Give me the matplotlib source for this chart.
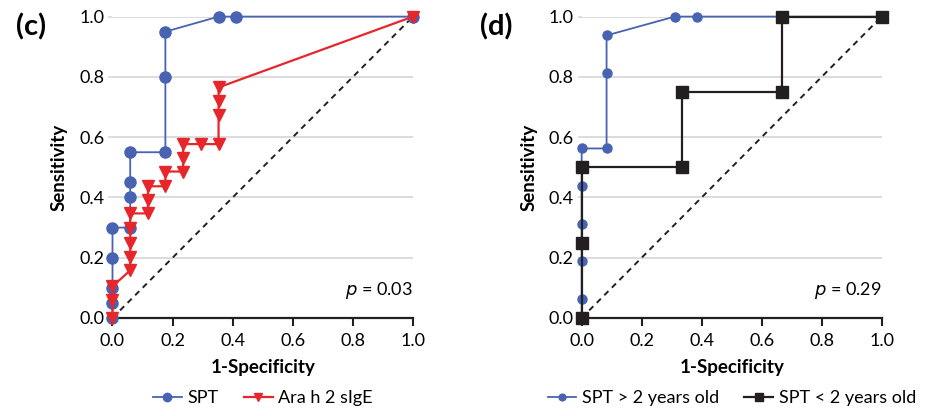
import matplotlib
matplotlib.use("Agg")
import matplotlib.pyplot as plt

plt.rcParams['font.family'] = ['Lato', 'DejaVu Sans']

# panel (c): SPT vs Ara h 2 sIgE
spt_fpr = [0, 0, 0, 0, 0, 0.059, 0.059, 0.059, 0.059, 0.176, 0.176, 0.176, 0.353, 0.412, 1.0]
spt_tpr = [0, 0.05, 0.10, 0.20, 0.30, 0.30, 0.40, 0.45, 0.55, 0.55, 0.80, 0.95, 1.0, 1.0, 1.0]

ara_fpr = [0, 0, 0, 0.059, 0.059, 0.059, 0.059, 0.059, 0.118, 0.118, 0.118, 0.176, 0.176,
           0.235, 0.235, 0.235, 0.294, 0.353, 0.353, 0.353, 0.353, 1.0]
ara_tpr = [0, 0.06, 0.105, 0.158, 0.203, 0.25, 0.30, 0.347, 0.347, 0.392, 0.437, 0.437, 0.486,
           0.486, 0.53, 0.577, 0.577, 0.577, 0.674, 0.72, 0.765, 1.0]

# panel (d): SPT by age
old_fpr = [0, 0, 0, 0, 0, 0, 0.083, 0.083, 0.083, 0.31, 0.385, 1.0]
old_tpr = [0, 0.0625, 0.1875, 0.3125, 0.4375, 0.5625, 0.5625, 0.8125, 0.9375, 1.0, 1.0, 1.0]

young_fpr = [0, 0, 0, 0.333, 0.333, 0.667, 0.667, 1.0]
young_tpr = [0, 0.25, 0.5, 0.5, 0.75, 0.75, 1.0, 1.0]

ticks = [0.0, 0.2, 0.4, 0.6, 0.8, 1.0]
tick_labels = ['0.0', '0.2', '0.4', '0.6', '0.8', '1.0']

blue = '#4763b1'
red = '#e6262b'
black = '#231f20'

fig = plt.figure(figsize=(9.32, 4.16), dpi=100)
ax1 = fig.add_axes([0.1207, 0.2356, 0.3224, 0.7245])
ax2 = fig.add_axes([0.6241, 0.2356, 0.3219, 0.7245])


def style(ax, panel, panel_x, pval):
    ax.set_xlim(0, 1)
    ax.set_ylim(0, 1)
    ax.plot([0, 1], [0, 1], color=black, lw=1.4, ls=(0, (3, 2.5)), zorder=2)
    for s in ['top', 'right', 'left']:
        ax.spines[s].set_visible(False)
    ax.spines['bottom'].set_linewidth(1.6)
    ax.spines['bottom'].set_color(black)
    ax.set_xticks(ticks)
    ax.set_xticklabels(tick_labels)
    ax.set_yticks(ticks)
    ax.set_yticklabels(tick_labels)
    ax.tick_params(axis='x', length=6, width=1.5, color=black, labelsize=13, pad=5)
    ax.tick_params(axis='y', length=3, width=1.2, color='#d9d9d9', labelsize=13, pad=3)
    ax.grid(axis='y', color='#d9d9d9', lw=1.3, zorder=0)
    ax.set_axisbelow(True)
    ax.set_xlabel('1-Specificity', fontsize=13.5, fontweight='bold', labelpad=7)
    ax.set_ylabel('Sensitivity', fontsize=13.5, fontweight='bold', labelpad=8)
    ax.text(panel_x, 0.965, panel, transform=ax.transAxes, fontsize=21, fontweight='bold',
            ha='center', va='center')
    ax.text(1.0, 0.09, r'$\it{p}$ = ' + pval, transform=ax.transAxes, fontsize=13,
            ha='right', va='center')


style(ax1, '(c)', -0.272, '0.03')
ax1.plot(spt_fpr, spt_tpr, color=blue, lw=1.3, marker='o', ms=8, label='SPT',
         clip_on=False, zorder=3)
ax1.plot(ara_fpr, ara_tpr, color=red, lw=1.6, marker='v', ms=8, label='Ara h 2 sIgE',
         clip_on=False, zorder=4)
ax1.legend(loc='center', bbox_to_anchor=(0.5, -0.265), ncol=2, frameon=False,
           fontsize=13, handlelength=1.6, columnspacing=1.4, handletextpad=0.3,
           markerscale=0.75)

style(ax2, '(d)', -0.285, '0.29')
ax2.plot(old_fpr, old_tpr, color=blue, lw=1.3, marker='o', ms=6.5, label='SPT > 2 years old',
         clip_on=False, zorder=3)
ax2.plot(young_fpr, young_tpr, color=black, lw=1.6, marker='s', ms=8,
         label='SPT < 2 years old', clip_on=False, zorder=4)
ax2.legend(loc='center', bbox_to_anchor=(0.5, -0.265), ncol=2, frameon=False,
           fontsize=13, handlelength=1.6, columnspacing=1.4, handletextpad=0.3,
           markerscale=0.75)

fig.savefig('out.png', dpi=100)
